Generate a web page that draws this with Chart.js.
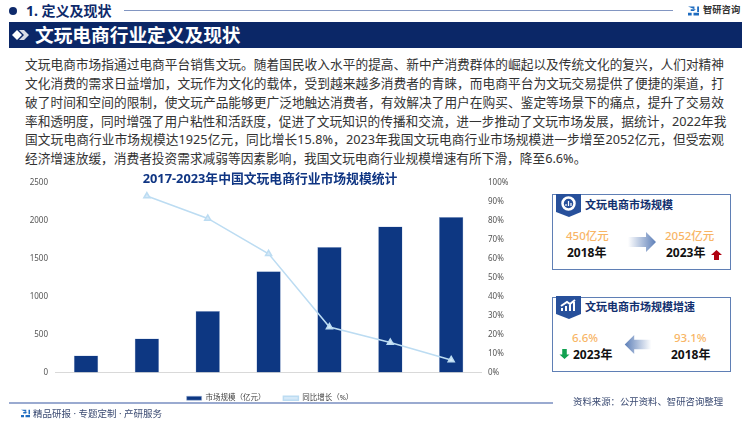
<!DOCTYPE html>
<html><head><meta charset="utf-8">
<script src="https://cdn.jsdelivr.net/npm/chart.js@4"></script>
<style>
html,body{margin:0;padding:0;background:#fff;width:750px;height:421px;overflow:hidden;font-family:"Noto Sans","Noto Sans CJK SC",sans-serif}
.a{position:absolute;white-space:nowrap}
.b{font-weight:700}
.p{position:absolute;left:25px;width:699px;font-size:12.7px;line-height:18px;color:#333;white-space:nowrap;text-align:justify;text-align-last:justify}
.box{position:absolute;border:1.5px solid #5f7fb5;box-sizing:border-box;background:#fff}
.o{color:#f8b565;font-size:11.5px;font-weight:500}
.k{color:#111;font-size:12px;font-weight:700}
</style></head><body>
<div class="a" style="left:9px;top:7px;width:8px;height:8px;border-radius:50%;background:#0e2a6b"></div>
<div class="a b" style="left:26px;top:1px;font-size:14px;color:#0e2a6b;line-height:20px">1. 定义及现状</div>
<div class="a" style="left:124px;top:9.5px;width:549px;height:1.5px;background:#8296c2"></div>
<svg class="a" style="left:688px;top:5px" width="11" height="12" viewBox="0 0 12 12"><path d="M0 1h7v3H3v2h4V5h2M0 8h4v3H0zM6 8h6v3H6zM10 1h2v6h-2z" fill="#1e6cc0"/></svg>
<div class="a b" style="left:703px;top:1px;font-size:9.3px;line-height:18px;color:#333">智研咨询</div>
<div class="a" style="left:9px;top:22px;height:26px;width:733px;background:#0b2767"></div>
<svg class="a" style="left:12px;top:29px" width="18" height="12" viewBox="0 0 18 12"><path d="M0 6l5-5 5 5-5 5z" fill="#fff"/><path d="M7 1h5l5 5-5 5H7l5-5z" fill="#d9dde6"/></svg>
<div class="a b" style="left:35px;top:22px;font-size:18.7px;line-height:25px;color:#fff">文玩电商行业定义及现状</div>

<div class="p" style="top:55px">文玩电商市场指通过电商平台销售文玩。随着国民收入水平的提高、新中产消费群体的崛起以及传统文化的复兴，人们对精神</div>
<div class="p" style="top:74px">文化消费的需求日益增加，文玩作为文化的载体，受到越来越多消费者的青睐，而电商平台为文玩交易提供了便捷的渠道，打</div>
<div class="p" style="top:93px">破了时间和空间的限制，使文玩产品能够更广泛地触达消费者，有效解决了用户在购买、鉴定等场景下的痛点，提升了交易效</div>
<div class="p" style="top:112px">率和透明度，同时增强了用户粘性和活跃度，促进了文玩知识的传播和交流，进一步推动了文玩市场发展，据统计，2022年我</div>
<div class="p" style="top:130px">国文玩电商行业市场规模达1925亿元，同比增长15.8%，2023年我国文玩电商行业市场规模进一步增至2052亿元，但受宏观</div>
<div class="p" style="top:149px;text-align-last:left">经济增速放缓，消费者投资需求减弱等因素影响，我国文玩电商行业规模增速有所下滑，降至6.6%。</div>

<div style="position:absolute;left:0;top:169px;width:540px;height:243px"><canvas id="c" width="540" height="243"></canvas></div>

<div class="box" style="left:552px;top:194px;width:179px;height:76px"></div>
<svg class="a" style="left:556px;top:194px" width="25" height="23" viewBox="0 0 25 23"><path d="M0 0h25v18l-12 5-13-5z" fill="#27509b"/><circle cx="12.500" cy="9.500" r="6" fill="none" stroke="#fff" stroke-width="2.500"/><path d="M10 12v-2M12.500 12V7M15 12V9" stroke="#fff" stroke-width="1.200"/></svg>
<div class="a b" style="left:585px;top:196px;font-size:11px;line-height:18px;color:#12306f">文玩电商市场规模</div>
<div class="a o" style="left:566px;top:227px;line-height:18px">450亿元</div>
<div class="a k" style="left:567px;top:244px;line-height:18px">2018年</div>
<div class="a o" style="left:665px;top:227px;line-height:18px">2052亿元</div>
<div class="a k" style="left:666px;top:244px;line-height:18px">2023年</div>
<svg class="a" style="left:628px;top:232px" width="28" height="20" viewBox="0 0 28 20"><defs><linearGradient id="g1"><stop offset="0" stop-color="#fff"/><stop offset="1" stop-color="#5d7fb8"/></linearGradient></defs><path d="M0 5h18V0l10 10-10 10v-5H0z" fill="url(#g1)"/></svg>
<svg class="a" style="left:711px;top:250px" width="11" height="10" viewBox="0 0 11 10"><path d="M5.500 0L11 5H8v5H3V5H0z" fill="#b00010"/></svg>

<div class="box" style="left:552px;top:297px;width:179px;height:75px"></div>
<svg class="a" style="left:556px;top:296px" width="25" height="23" viewBox="0 0 25 23"><path d="M0 0h25v18l-12 5-13-5z" fill="#27509b"/><path d="M6 15v-3M10 15v-5M14 15V8M18 15V6M5 10l6-4 3 2 5-4" stroke="#fff" stroke-width="2" fill="none"/></svg>
<div class="a b" style="left:585px;top:298px;font-size:11px;line-height:18px;color:#12306f">文玩电商市场规模增速</div>
<div class="a o" style="left:572px;top:329px;line-height:18px">6.6%</div>
<div class="a k" style="left:573px;top:346px;line-height:18px">2023年</div>
<div class="a o" style="left:674px;top:329px;line-height:18px">93.1%</div>
<div class="a k" style="left:671px;top:346px;line-height:18px">2018年</div>
<svg class="a" style="left:624px;top:335px" width="28" height="19" viewBox="0 0 28 20"><defs><linearGradient id="g2" x1="1" x2="0"><stop offset="0" stop-color="#fff"/><stop offset="1" stop-color="#5d7fb8"/></linearGradient></defs><path d="M28 5H10V0L0 10l10 10v-5h18z" fill="url(#g2)"/></svg>
<svg class="a" style="left:559px;top:349px" width="11" height="10" viewBox="0 0 11 11"><path d="M3 0h5v6h3l-5.500 5L0 6h3z" fill="#12a150"/></svg>

<div class="a" style="left:9px;top:402px;width:544px;height:1.500px;background:#9aaad0"></div>
<svg class="a" style="left:21px;top:409px" width="9" height="9" viewBox="0 0 12 12"><path d="M0 1h7v3H3v2h4V5h2M0 8h4v3H0zM6 8h6v3H6zM10 1h2v6h-2z" fill="#1e6cc0"/></svg>
<div class="a" style="left:33px;top:406px;font-size:9.500px;line-height:16px;color:#3a4a72">精品研报 · 专题定制 · 产研服务</div>
<div class="a" style="left:573px;top:394px;font-size:9.400px;line-height:16px;color:#3a4a72">资料来源：公开资料、智研咨询整理</div>

<script>
const categories=["2017","2018","2019","2020","2021","2022","2023"];
const marketSize=[225,450,810,1335,1655,1925,2052];
const growthRate=[null,93.1,81.3,62.6,24,15.8,6.6];
const seriesNames=["市场规模（亿元）","同比增长（%）"];
const chartTitle="2017-2023年中国文玩电商行业市场规模统计";
const barColor="#0d3782", lineColor="#bcdcf2";
Chart.defaults.font.family='"Noto Sans","Noto Sans CJK SC",sans-serif';
Chart.defaults.animation=false;
new Chart(document.getElementById("c"),{
 data:{labels:categories,datasets:[
  {type:"line",label:seriesNames[1],data:growthRate,yAxisID:"y2",borderColor:lineColor,backgroundColor:"#d5e9f8",borderWidth:1.5,pointStyle:"triangle",pointRadius:3.5,tension:0,order:0,spanGaps:false},
  {type:"bar",label:seriesNames[0],data:marketSize,yAxisID:"y",backgroundColor:barColor,borderColor:"#9fb4d8",borderWidth:0.5,categoryPercentage:0.4,barPercentage:1,order:1}
 ]},
 options:{responsive:false,maintainAspectRatio:false,
  layout:{padding:0},
  plugins:{
   title:{display:true,text:chartTitle,color:"#0f3583",font:{size:12.8,weight:"700",lineHeight:1},padding:{top:3.5,bottom:-2.3}},
   legend:{position:"bottom",reverse:true,labels:{color:"#444",font:{size:7.5},boxWidth:15,boxHeight:4,padding:18}},
   tooltip:{enabled:false}},
  scales:{
   x:{afterFit(s){s.height=4},grid:{display:false,drawTicks:false},border:{color:"#d9d9d9"},ticks:{color:"#555",padding:7,font:{size:8}}},
   y:{min:0,max:2500,afterFit(s){s.width=55.6},ticks:{stepSize:500,color:"#555",padding:7.6,font:{size:8},callback:v=>String(v)},grid:{display:false,drawTicks:false},border:{display:false}},
   y2:{position:"right",min:0,max:100,afterFit(s){s.width=58.4},ticks:{stepSize:10,color:"#555",padding:6.4,font:{size:8},callback:v=>v+"%"},grid:{display:false,drawTicks:false},border:{display:false}}
  }}
});
</script>
</body></html>
